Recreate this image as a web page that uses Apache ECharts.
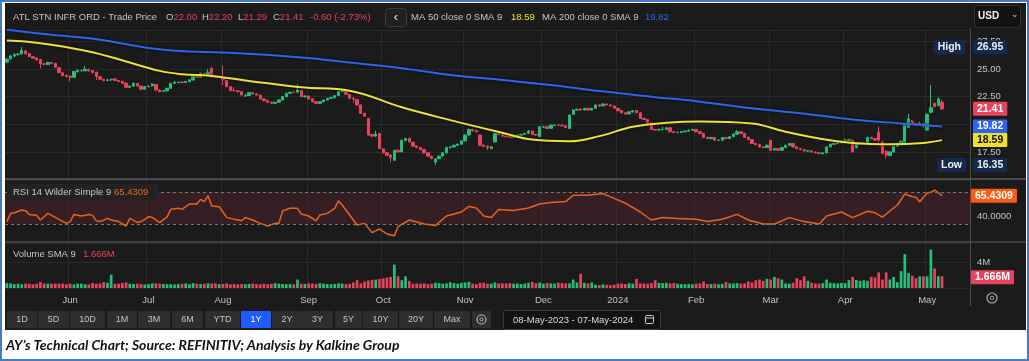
<!DOCTYPE html>
<html><head><meta charset="utf-8">
<script src="https://cdn.jsdelivr.net/npm/echarts@6/dist/echarts.min.js"></script>
<style>
html,body{margin:0;padding:0;background:#fff;}
#frame{position:relative;width:1029px;height:361px;box-sizing:border-box;border:2px solid #4a78c2;background:#fff;overflow:hidden;}
#dark{position:absolute;left:3px;top:1px;width:1021px;height:327px;background:#1b1b1b;}
#c{position:absolute;left:-2px;top:-2px;width:1029px;height:361px;}
#cap{position:absolute;left:4px;top:334px;font:italic bold 14px Lato,"Liberation Sans",sans-serif;color:#111;white-space:nowrap;}
</style>
</head><body>
<div id="frame"><div id="dark"></div><div id="c"></div>
<div id="cap">AY’s Technical Chart; Source: REFINITIV; Analysis by Kalkine Group</div></div>
<script>
// ---------- DATA ----------
const holidays = ['2023-05-29','2023-06-19','2023-07-04','2023-09-04','2023-11-23','2023-12-25','2024-01-01','2024-01-15','2024-02-19','2024-03-29'];
const monthNames = ['Jan','Feb','Mar','Apr','May','Jun','Jul','Aug','Sep','Oct','Nov','Dec'];
// candles: [open, close, low, high]
const ohlc = [
[25.62,25.87,25.50,26.00],[25.90,26.17,25.85,26.25],[26.15,26.27,26.05,26.40],[26.30,26.33,26.18,26.45],[26.35,26.66,26.30,26.95],
[26.62,26.36,26.30,26.70],[26.38,26.11,26.05,26.42],[26.10,25.96,25.90,26.18],[25.98,25.81,25.72,26.02],[25.85,25.45,25.05,25.90],
[25.45,25.42,25.30,25.55],[25.40,25.57,25.35,25.65],[25.55,25.51,25.42,25.62],[25.50,25.15,25.10,25.55],[25.10,24.67,24.60,25.15],
[24.65,24.40,24.35,24.70],[24.42,24.31,24.22,24.50],[24.35,24.22,23.85,24.40],[24.25,24.76,24.20,24.80],[24.75,24.85,24.68,24.95],
[24.85,24.85,24.75,24.95],[24.82,24.97,24.78,25.28],[24.95,24.82,24.75,25.02],[24.85,24.67,24.60,24.90],[24.70,24.31,24.00,24.75],
[24.30,24.07,24.00,24.35],[24.05,23.95,23.88,24.12],[23.95,24.01,23.90,24.10],[24.02,24.07,23.92,24.15],[24.10,23.95,23.90,24.15],
[23.95,23.86,23.80,24.00],[23.88,23.70,23.62,23.92],[23.72,23.34,23.30,23.75],[23.35,23.46,23.30,23.52],[23.45,23.70,23.40,23.78],
[23.68,23.46,23.40,23.72],[23.45,23.16,23.10,23.50],[23.18,23.40,23.12,23.45],[23.40,23.46,23.35,23.52],[23.48,23.64,23.42,23.72],
[23.60,23.10,23.05,23.65],[23.10,22.95,22.90,23.15],[22.98,23.04,22.92,23.10],[23.02,23.25,22.98,23.30],[23.25,23.70,23.22,23.75],
[23.70,23.80,23.65,23.88],[23.78,23.80,23.72,23.86],[23.82,23.77,23.70,23.88],[23.78,23.86,23.72,23.92],[23.85,24.01,23.80,24.06],
[24.00,24.31,23.95,24.36],[24.30,24.25,24.18,24.35],[24.25,24.61,24.20,24.66],[24.60,24.52,24.45,24.65],[24.45,24.70,24.40,25.00],
[25.05,24.30,24.25,25.15],[24.30,24.25,24.18,24.35],[24.25,24.25,24.18,24.32],[24.25,24.01,23.55,25.27],[23.95,23.40,23.35,24.00],
[23.40,23.04,23.00,23.45],[23.05,23.04,22.98,23.35],[23.02,22.95,22.88,23.08],[22.95,22.65,22.60,23.00],[22.55,22.59,22.50,22.75],
[22.60,22.86,22.55,22.90],[22.85,22.74,22.70,22.90],[22.75,22.65,22.60,22.80],[22.65,22.29,22.25,22.68],[22.30,22.14,22.08,22.35],
[22.15,21.99,21.92,22.18],[22.00,21.90,21.82,22.05],[21.90,21.99,21.85,22.05],[22.00,22.20,21.95,22.25],[22.20,22.50,22.15,22.55],
[22.50,22.80,22.45,22.85],[22.80,22.89,22.75,22.95],[22.90,22.89,22.82,22.98],[22.90,23.10,22.85,23.64],[23.05,22.50,22.45,23.10],
[22.50,22.56,22.42,22.62],[22.55,22.29,22.22,22.60],[22.30,22.05,21.98,22.35],[22.05,21.90,21.82,22.10],[21.90,22.05,21.85,22.10],
[22.05,22.20,22.00,22.25],[22.20,22.35,22.15,22.40],[22.35,22.41,22.30,22.48],[22.40,22.59,22.35,22.65],[22.60,22.95,22.55,23.00],
[22.95,23.10,22.90,23.25],[23.05,22.71,22.65,23.10],[22.70,22.35,22.30,22.75],[22.35,22.29,22.00,22.45],[22.25,21.75,21.70,22.30],
[21.75,20.99,20.95,21.80],[21.00,20.75,20.70,21.05],[20.54,19.04,18.98,20.60],[19.10,18.95,18.85,19.15],[18.95,19.13,18.90,19.45],
[19.19,17.83,17.78,19.25],[17.80,17.44,17.40,17.85],[17.45,17.23,17.15,17.50],[17.25,17.02,16.60,17.30],[16.78,17.68,16.72,17.72],
[17.68,17.53,17.45,17.75],[17.53,18.58,17.50,18.65],[18.55,18.73,18.50,18.80],[18.75,18.43,18.38,18.80],[18.40,18.04,17.98,18.45],
[18.05,17.92,17.85,18.10],[17.92,17.74,17.68,17.95],[17.75,17.44,17.38,17.78],[17.45,17.14,17.08,17.48],[17.15,16.93,16.88,17.18],
[16.62,16.90,16.35,16.98],[16.92,17.14,16.88,17.20],[17.15,17.44,17.10,17.50],[17.45,17.92,17.40,17.98],[17.90,17.98,17.85,18.05],
[17.98,18.13,17.92,18.18],[18.12,18.22,18.08,18.28],[18.22,18.52,18.18,18.58],[18.52,19.04,18.48,19.10],[19.05,19.55,19.00,19.62],
[19.55,19.43,19.35,19.60],[19.45,19.34,19.28,19.50],[19.04,18.13,18.08,19.10],[18.15,18.04,17.95,18.20],[18.05,17.92,17.70,18.08],
[17.85,17.98,17.78,18.05],[18.43,19.19,18.40,19.25],[19.20,19.10,19.02,19.25],[19.10,18.95,18.90,19.15],[18.95,18.89,18.82,19.00],
[18.90,18.83,18.78,18.95],[18.85,18.95,18.80,19.00],[18.95,19.04,18.90,19.10],[19.02,19.10,18.98,19.15],[19.10,19.19,19.05,19.25],
[19.20,19.40,19.15,19.50],[19.40,19.10,19.05,19.45],[19.10,19.04,18.95,19.15],[18.90,19.79,18.85,19.85],[19.75,19.79,19.70,19.88],
[19.80,19.64,19.58,19.85],[19.65,19.94,19.60,20.00],[19.92,19.94,19.88,20.00],[19.95,19.94,19.88,20.00],[19.94,19.88,19.82,19.98],
[19.88,19.73,19.66,19.92],[19.64,20.84,19.60,20.90],[20.90,21.30,20.85,21.38],[21.30,21.36,21.25,21.42],[21.38,21.30,21.22,21.42],
[21.30,21.45,21.25,21.50],[21.45,21.30,21.25,21.50],[21.30,21.45,21.25,21.50],[21.45,21.75,21.40,21.80],[21.75,21.66,21.60,21.82],
[21.68,21.84,21.62,21.90],[21.84,21.75,21.70,21.90],[21.75,21.66,21.60,21.80],[21.66,21.45,21.40,21.70],[21.45,21.23,21.18,21.50],
[21.25,21.05,21.00,21.30],[21.05,20.93,20.88,21.10],[20.95,21.14,20.90,21.20],[21.12,21.23,21.08,21.30],[21.25,21.05,21.00,21.30],
[21.05,20.54,20.50,21.08],[20.55,20.45,20.40,20.60],[20.45,20.15,20.10,20.50],[20.15,19.55,19.50,20.18],[19.55,19.49,19.42,19.60],
[19.50,19.55,19.45,19.62],[19.55,19.55,19.48,19.80],[19.55,19.70,19.50,19.75],[19.70,19.34,19.28,19.72],[19.35,19.28,19.22,19.40],
[19.28,19.28,19.20,19.35],[19.28,19.34,19.22,19.40],[19.34,19.40,19.30,19.45],[19.40,19.49,19.35,19.55],[19.48,19.55,19.45,19.62],
[19.55,19.34,19.28,19.60],[19.35,19.19,19.12,19.40],[19.20,18.83,18.78,19.22],[18.85,18.73,18.68,18.90],[18.72,18.83,18.68,18.88],
[18.83,18.58,18.52,18.88],[18.58,18.58,18.50,18.65],[18.58,18.83,18.55,18.88],[18.83,18.73,18.68,18.88],[18.72,18.89,18.68,18.95],
[18.90,19.13,18.85,19.18],[19.12,19.34,19.08,19.50],[19.34,19.19,19.12,19.40],[19.20,18.83,18.78,19.22],[18.85,18.64,18.58,18.90],
[18.65,18.28,18.22,18.70],[18.28,18.19,18.12,18.32],[18.20,17.98,17.92,18.25],[17.98,17.92,17.85,18.05],[17.92,18.13,17.88,18.18],
[18.58,17.68,17.62,18.62],[17.70,17.83,17.62,17.88],[17.83,17.68,17.60,17.88],[17.68,17.92,17.62,17.98],[17.92,18.13,17.88,18.18],
[18.12,18.28,18.08,18.32],[18.28,17.98,17.92,18.30],[17.98,17.83,17.75,18.02],[17.82,17.74,17.68,17.88],[17.74,17.62,17.55,17.78],
[17.62,17.62,17.50,17.70],[17.62,17.53,17.45,17.68],[17.53,17.44,17.38,17.58],[17.44,17.38,17.32,17.50],[17.36,17.44,17.30,17.50],
[17.44,17.98,17.40,18.02],[17.98,18.22,17.95,18.28],[18.22,18.28,18.18,18.35],[18.28,18.34,18.22,18.40],[18.34,18.49,18.30,18.55],
[18.49,18.58,18.45,18.75],[18.58,18.64,18.52,18.70],[18.58,17.53,17.48,18.62],[17.90,18.22,17.85,18.28],[18.22,18.28,18.18,18.35],
[18.28,18.34,18.22,18.40],[18.34,18.83,18.30,18.90],[18.83,18.73,18.68,18.90],[18.73,18.58,18.52,18.78],[19.30,18.60,18.40,19.80],
[18.43,17.38,17.32,18.50],[17.60,17.23,16.93,17.65],[17.20,17.53,17.15,17.60],[17.53,18.04,17.48,18.10],[18.04,18.28,18.00,18.35],
[18.28,18.49,18.22,18.55],[18.35,20.00,18.30,20.05],[19.75,20.50,19.70,20.95],[20.30,20.03,19.95,20.40],[20.10,19.94,19.85,20.15],
[20.05,20.09,19.88,20.25],[20.09,19.85,19.70,20.12],[19.50,20.90,19.45,21.00],[21.10,21.50,21.00,23.55],[21.90,21.60,21.55,21.95],
[21.70,22.30,21.65,22.45],[22.00,21.41,21.29,22.20]
];
// volume, millions
const volume = [
0.75,0.72,0.58,0.65,0.58,0.66,0.66,0.57,0.65,0.90, 0.68,0.66,0.65,0.68,0.66,0.67,0.57,0.66,0.57,0.68,
0.66,0.58,0.56,0.77,0.66,0.67,0.90,0.80,2.05,0.66, 0.67,0.77,0.85,0.66,0.62,0.66,0.62,0.55,0.60,0.70,
0.72,0.66,0.62,0.58,0.60,0.55,0.60,0.66,0.70,0.60, 0.75,0.66,0.62,0.65,0.72,0.68,0.70,0.60,0.62,0.70,
0.58,0.60,0.55,0.62,0.57,0.62,0.68,0.60,0.55,0.66, 0.60,0.62,0.75,0.66,0.62,0.58,0.60,0.55,1.30,0.66,
0.62,0.72,0.68,0.62,0.75,0.66,0.60,0.58,0.62,0.72, 0.68,0.60,0.66,0.85,1.20,0.70,1.00,1.15,1.25,1.30,
1.40,1.50,1.60,1.70,3.60,1.80,1.20,1.80,1.10,0.66, 0.70,0.66,0.72,0.60,0.66,0.80,0.75,0.66,0.70,0.90,
0.75,0.66,0.80,0.85,0.95,0.66,0.60,0.80,0.80,0.66, 0.66,0.85,0.70,0.72,0.68,0.75,0.66,0.70,0.62,0.68,
0.80,0.95,0.72,0.85,0.66,0.75,0.70,0.68,0.80,0.75, 0.70,0.72,1.30,0.85,2.20,0.80,0.70,0.85,0.50,0.45,
0.55,0.50,0.45,0.52,0.66,0.70,0.62,0.75,0.66,1.40, 0.72,0.70,0.66,0.75,1.20,0.78,0.75,0.80,0.70,0.75,
0.66,0.60,0.58,0.62,0.55,0.66,0.70,1.00,0.62,0.60, 0.66,0.58,0.62,0.92,0.72,0.70,0.75,0.66,0.72,1.00,
0.85,1.20,1.30,1.10,1.40,1.30,1.70,1.50,1.30,0.70, 0.66,0.80,1.50,1.20,1.80,1.10,0.80,0.70,0.66,0.75,
1.30,0.80,0.75,0.70,0.80,0.75,1.20,1.70,1.25,1.10, 1.20,1.10,1.70,1.60,2.40,1.30,2.40,1.30,1.70,0.90,
2.60,5.20,2.30,1.90,1.50,1.80,1.80,1.80,5.90,3.00, 1.80,1.80
];
// RSI points: [trading-day index, value]
const rsiPoints = [
[0,33],[1,43],[2,44],[4,47.5],[5,46.7],[6,42],[8,40.8],[9,35],[11,43.3],[13,38.3],[16,30.8],[17,32.9],[18,42],[20,40],[22,42],[23,40.8],
[24,34],[25,33],[27,37],[28,35],[30,33],[32,27.5],[33,37],[35,32],[36,33],[38,39],[39,38.3],[41,31.7],[43,39],[44,48.3],[46,49.6],[47,48.3],
[49,55],[51,55],[52,60.8],[53,58],[54,65.4],[55,52.5],[57,51.7],[59,38.3],[61,35.8],[63,34],[64,38],[66,35],[68,30.8],[70,27.5],[72,30.8],
[73,30.8],[74,46.3],[76,49.6],[78,49.6],[79,42.5],[81,40],[83,34],[84,41.3],[86,43.3],[88,49.6],[89,58.8],[90,53.8],[92,41.3],[94,28.8],
[96,30.8],[98,19.2],[100,23.8],[102,17.5],[104,15.4],[105,26.7],[108,35],[112,30],[115,28],[118,40],[122,45],[124,52],[126,50],[128,40],
[130,38],[132,48],[136,47],[140,50],[143,55],[146,57],[150,58],[152,66],[156,66],[160,68],[163,62],[166,56],[170,45],[173,35],[176,38],
[180,37],[185,36],[188,33],[192,36],[196,42],[199,35],[203,30],[206,30],[210,38],[214,33],[218,30],[220,40],[224,45],[227,38],[231,46],
[233,44],[235,38.6],[238,50],[239,53.8],[241,67.5],[243,64],[244,63.3],[245,57.9],[247,68.7],[248,69.6],[249,72.5],[251,65.4309]
];
// Moving averages: [trading-day index, value]
const ma50Points = [[0,27.56],[5,27.47],[12,27.17],[22,26.57],[30,25.87],[41,24.82],[47,24.52],[55,24.37],[65,23.92],[79,23.34],[92,23.04],
[106,21.54],[119,20.39],[133,19.25],[141,18.64],[151,18.49],[159,18.95],[168,19.79],[177,20.15],[186,20.27],[200,20.09],[209,19.34],
[218,18.73],[227,18.34],[237,18.22],[246,18.34],[251,18.59]];
const ma200Points = [[0,28.52],[12,28.07],[25,27.62],[38,26.87],[45,26.63],[61,26.42],[79,26.02],[92,25.57],[106,25.06],[119,24.46],
[133,24.0],[146,23.55],[159,23.0],[173,22.5],[186,22.05],[200,21.45],[213,21.0],[227,20.45],[240,20.09],[251,19.82]];
const header = {open:'22.00', high:'22.20', low:'21.29', close:'21.41', change:'-0.60 (-2.73%)', ma50:18.59, ma200:19.82};
const highVal = 26.95, lowVal = 16.35, lastClose = 21.41, rsiLast = 65.4309, volSma = 1.666;
const rangeButtons = ['1D','5D','10D','1M','3M','6M','YTD','1Y','2Y','3Y','5Y','10Y','20Y','Max'];
const dateRange = '08-May-2023 - 07-May-2024';

// ---------- BUILD ----------
function tradingDays(){
  const out=[]; let t=Date.UTC(2023,4,8); const end=Date.UTC(2024,4,7);
  while(t<=end){ const d=new Date(t); const wd=d.getUTCDay(); const s=d.toISOString().slice(0,10);
    if(wd>0&&wd<6&&holidays.indexOf(s)<0) out.push(s); t+=86400000; }
  return out;
}
const dates = tradingDays();
const cats = dates.concat(['','','','','','','']);
function isMonthStart(i){ return i>0 && i<dates.length && dates[i].slice(5,7)!==dates[i-1].slice(5,7); }
function monthLabel(v){ if(!v) return ''; const m=+v.slice(5,7); return m===1? v.slice(0,4) : monthNames[m-1]; }

const UP='#22c07a', DOWN='#e8435c', YEL='#f0e130', BLU='#2f62ee', ORG='#e8641e', GRID='#2a2a2a', TXT='#c4c4c4';
const FONT='"Liberation Sans", Arial, sans-serif';

const volData = volume.map((v,i)=>({value:v, itemStyle:{color: ohlc[i][1]>=ohlc[i][0]?UP:DOWN}}));

function lbl(val, text, bg, fg, pos, dist){
  return {yAxis:val, lineStyle:{color:'rgba(0,0,0,0)', width:0.01},
    label:{show:true, position:pos, distance:dist, formatter:text, backgroundColor:bg, color:fg,
      padding:[2,4,1,4], fontSize:10.5, fontWeight:'bold', fontFamily:FONT, borderRadius:1}};
}

const xBase = (gi, showLabel) => ({
  type:'category', gridIndex:gi, data:cats, boundaryGap:true,
  axisLine:{show:false}, axisTick:{show:false},
  axisLabel:{show:showLabel, interval:(i)=>isMonthStart(i), formatter:monthLabel, color:TXT, fontSize:9.5, fontFamily:FONT, margin:7},
  splitLine:{show:true, interval:(i)=>isMonthStart(i), lineStyle:{color:GRID, width:1}}
});

const texts = [];
function T(x,y,text,fill,size,extra){ texts.push(Object.assign({type:'text', z:100, style:{x:x,y:y,text:text,fill:fill,font:(size||9.5)+'px '+FONT,textVerticalAlign:'middle'}}, extra||{})); }
function R(x,y,w,h,fill,stroke,r){ texts.push({type:'rect', z:99, shape:{x:x,y:y,width:w,height:h,r:r||0}, style:{fill:fill, stroke:stroke||null, lineWidth:1}}); }
function RT(x,y,parts){
  let s=''; const rich={};
  parts.forEach((p,k)=>{ s+='{p'+k+'|'+p[0]+'}'; rich['p'+k]={fill:p[1], font:'9.5px '+FONT}; });
  texts.push({type:'text', z:100, style:{x:x,y:y,text:s,rich:rich,textVerticalAlign:'middle'}});
}

// header
T(13,17,'ATL STN INFR ORD - Trade Price',TXT);
RT(166,17,[['O',TXT],[header.open,DOWN]]);
RT(202,17,[['H',TXT],[header.high,DOWN]]);
RT(238,17,[['L',TXT],[header.low,DOWN]]);
RT(273,17,[['C',TXT],[header.close,DOWN]]);
T(310,17,header.change,DOWN);
R(385.5,8.5,21,18,'#202020','#3a3a3a',3);
T(396,17,'‹','#e0e0e0',13,{}); texts[texts.length-1].style.textAlign='center';
T(411,17,'MA 50 close 0 SMA 9',TXT); T(511,17,header.ma50.toFixed(2),YEL);
T(542,17,'MA 200 close 0 SMA 9',TXT); T(645,17,header.ma200.toFixed(2),BLU);
R(974.5,5.5,46,22,'#121212','#333',3);
T(978,16,'USD','#f0f0f0',10,{}); texts[texts.length-1].style.font='bold 10px '+FONT;
T(1015,15,'⌄','#cccccc',9,{}); texts[texts.length-1].style.textAlign='center';

// panel legends
R(7,184,151,16,'#252223',null,0);
T(13,192,'RSI 14 Wilder Simple 9',TXT); T(114,192,rsiLast.toFixed(4),ORG);
T(13,254,'Volume SMA 9',TXT); T(83,254,volSma.toFixed(3)+'M',DOWN);

// separators and right axis line
texts.push({type:'line', z:98, shape:{x1:5,y1:179,x2:1026,y2:179}, style:{stroke:'#4a4a4a', lineWidth:2}});
texts.push({type:'line', z:98, shape:{x1:5,y1:242,x2:1026,y2:242}, style:{stroke:'#4a4a4a', lineWidth:1.5}});
texts.push({type:'line', z:98, shape:{x1:970.5,y1:28,x2:970.5,y2:306}, style:{stroke:'#4d4d4d', lineWidth:1}});

// gear in axis row
texts.push({type:'circle', z:100, shape:{cx:992,cy:298,r:5}, style:{fill:null, stroke:'#aaa', lineWidth:1.2}});
texts.push({type:'circle', z:100, shape:{cx:992,cy:298,r:1.8}, style:{fill:null, stroke:'#aaa', lineWidth:1}});

// toolbar
const btnLeft=[7,38,70,107,138,172,205,241,272,302,335,363,399,434];
const btnW=[30,31,35,30,32,31,35,30,30,31,27,35,34,36];
rangeButtons.forEach((b,k)=>{
  R(btnLeft[k],311,btnW[k],17,b==='1Y'?'#1f5bff':'#2e2e2e',null,1);
  T(btnLeft[k]+btnW[k]/2,320,b,b==='1Y'?'#ffffff':TXT,9,{}); texts[texts.length-1].style.textAlign='center';
});
R(472,311,19,17,'#2e2e2e',null,1);
texts.push({type:'circle', z:100, shape:{cx:481.5,cy:319.5,r:4.5}, style:{fill:null, stroke:'#bbb', lineWidth:1.1}});
texts.push({type:'circle', z:100, shape:{cx:481.5,cy:319.5,r:1.6}, style:{fill:null, stroke:'#bbb', lineWidth:1}});
R(503.5,310.5,157,19,'#121212','#3a3a3a',2);
T(513,320,dateRange,'#dddddd');
R(645.5,315.5,8,8,null,'#cccccc',1);
texts.push({type:'line', z:100, shape:{x1:645.5,y1:318,x2:653.5,y2:318}, style:{stroke:'#ccc', lineWidth:1}});

const chart = echarts.init(document.getElementById('c'), null, {renderer:'canvas'});
chart.setOption({
  animation:false,
  backgroundColor:'transparent',
  textStyle:{fontFamily:FONT},
  grid:[
    {left:5, width:965, top:30, height:150},
    {left:5, width:965, top:180, height:68},
    {left:5, width:965, top:243, height:45}
  ],
  xAxis:[xBase(0,false), xBase(1,false), xBase(2,true)],
  yAxis:[
    {type:'value', gridIndex:0, position:'right', min:15, max:28.5, interval:2.5,
     axisLine:{show:false}, axisTick:{show:false},
     axisLabel:{color:TXT, fontSize:9.5, margin:7, showMinLabel:false, showMaxLabel:false, formatter:v=>v.toFixed(2)},
     splitLine:{lineStyle:{color:GRID}}},
    {type:'value', gridIndex:1, position:'right', min:0, max:85, interval:5,
     axisLine:{show:false}, axisTick:{show:false},
     axisLabel:{color:TXT, fontSize:9.5, margin:7, formatter:v=> (Math.abs(v-40)<1e-9?'40.0000':'')},
     splitLine:{show:false}},
    {type:'value', gridIndex:2, position:'right', min:0, max:6.92, interval:4,
     axisLine:{show:false}, axisTick:{show:false},
     axisLabel:{color:TXT, fontSize:9.5, margin:7, showMinLabel:false, showMaxLabel:false, formatter:v=>v+'M'},
     splitLine:{lineStyle:{color:GRID}}}
  ],
  series:[
    {type:'candlestick', xAxisIndex:0, yAxisIndex:0, data:ohlc, barWidth:'76%',
     itemStyle:{color:UP, color0:DOWN, borderColor:UP, borderColor0:DOWN, borderWidth:1},
     markLine:{symbol:'none', silent:true, animation:false, data:[
       lbl(highVal, highVal.toFixed(2), '#14294d', '#f0f0f0', 'end', 3),
       lbl(highVal, 'High', '#14294d', '#f0f0f0', 'insideEnd', 5),
       lbl(lowVal, lowVal.toFixed(2), '#14294d', '#f0f0f0', 'end', 3),
       lbl(lowVal, 'Low', '#14294d', '#f0f0f0', 'insideEnd', 4),
       lbl(lastClose, lastClose.toFixed(2), DOWN, '#ffffff', 'end', 3)
     ]}},
    {type:'line', xAxisIndex:0, yAxisIndex:0, data:ma200Points, smooth:0.4, showSymbol:false, z:3,
     lineStyle:{color:BLU, width:2, shadowColor:'rgba(0,0,0,0.8)', shadowBlur:3},
     markLine:{symbol:'none', silent:true, animation:false, data:[lbl(header.ma200, header.ma200.toFixed(2), BLU, '#ffffff', 'end', 3)]}},
    {type:'line', xAxisIndex:0, yAxisIndex:0, data:ma50Points, smooth:0.4, showSymbol:false, z:3,
     lineStyle:{color:YEL, width:2, shadowColor:'rgba(0,0,0,0.9)', shadowBlur:3},
     markLine:{symbol:'none', silent:true, animation:false, data:[lbl(header.ma50, header.ma50.toFixed(2), YEL, '#111111', 'end', 3)]}},
    {type:'line', xAxisIndex:1, yAxisIndex:1, data:rsiPoints, showSymbol:false, z:3,
     lineStyle:{color:ORG, width:1.5},
     markArea:{silent:true, itemStyle:{color:'rgba(110,38,55,0.32)'}, data:[[{yAxis:30},{yAxis:70}]]},
     markLine:{symbol:'none', silent:true, animation:false, data:[
       {yAxis:70, lineStyle:{color:'#777', type:[3,3], width:1}, label:{show:false}},
       {yAxis:30, lineStyle:{color:'#777', type:[3,3], width:1}, label:{show:false}},
       lbl(rsiLast, rsiLast.toFixed(4), '#ff5a12', '#ffffff', 'end', 1)
     ]}},
    {type:'bar', xAxisIndex:2, yAxisIndex:2, data:volData, barWidth:'72%',
     markLine:{symbol:'none', silent:true, animation:false, data:[lbl(volSma, volSma.toFixed(3)+'M', DOWN, '#ffffff', 'end', 1)]}}
  ],
  graphic:{elements:texts}
});
</script>
</body></html>
